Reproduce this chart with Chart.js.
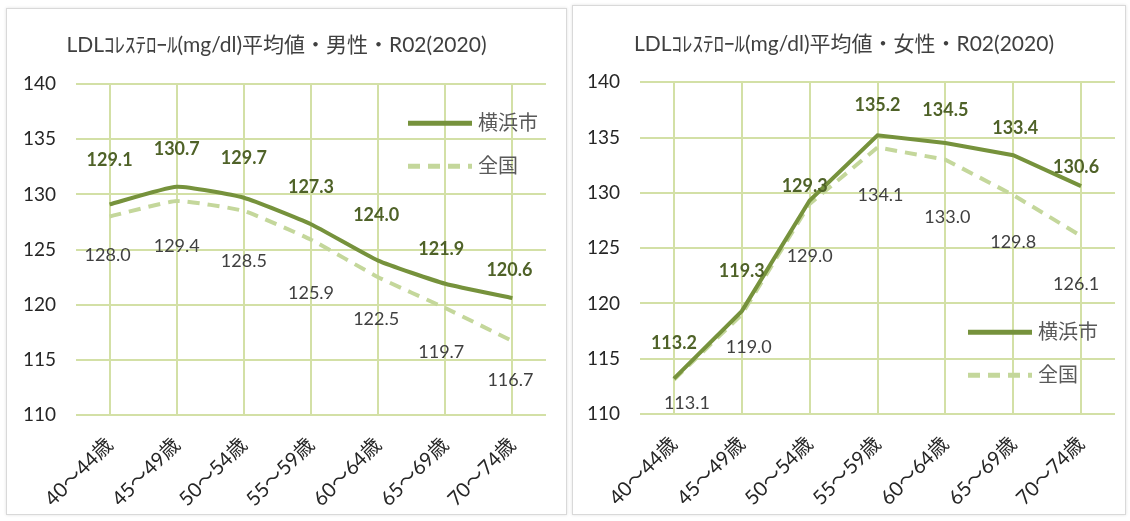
<!DOCTYPE html>
<html>
<head>
<meta charset="utf-8">
<script src="https://cdn.jsdelivr.net/npm/chart.js@4.4.1/dist/chart.umd.min.js"></script>
<style>
  html, body { margin: 0; padding: 0; background: #fff; }
  body { width: 1130px; height: 521px; position: relative; overflow: hidden; }
  .panel { position: absolute; box-sizing: border-box; border: 1px solid #d9d9d9; box-shadow: 0 0 3px rgba(0,0,0,0.12); background: #fff; }
  #p1 { left: 6px; top: 8px; width: 561px; height: 507px; }
  #p2 { left: 572px; top: 5px; width: 554px; height: 510px; }
  .panel canvas { position: absolute; left: 0; top: 0; }
</style>
</head>
<body>
<div class="panel" id="p1"><canvas id="male"></canvas></div>
<div class="panel" id="p2"><canvas id="female"></canvas></div>
<script>
const ageLabels = ['40～44歳', '45～49歳', '50～54歳', '55～59歳', '60～64歳', '65～69歳', '70～74歳'];
const yokohamaMale = [129.1, 130.7, 129.7, 127.3, 124.0, 121.9, 120.6];
const nationalMale = [128.0, 129.4, 128.5, 125.9, 122.5, 119.7, 116.7];
const yokohamaFemale = [113.2, 119.3, 129.3, 135.2, 134.5, 133.4, 130.6];
const nationalFemale = [113.1, 119.0, 129.0, 134.1, 133.0, 129.8, 126.1];
const yMin = 110, yMax = 140, yStep = 5;

const FONT = "Lato, 'Noto Sans CJK JP', sans-serif";
const darkGreen = '#76923C';
const lightGreen = '#C4D79B';
const gridGreen = '#D3E0A6';
Chart.defaults.font.family = FONT;

// value labels, placed by hand like the Excel original
const valueLabels = {
  id: 'valueLabels',
  afterDatasetsDraw(chart, args, opts) {
    const ctx = chart.ctx;
    chart.data.datasets.forEach((ds, i) => {
      const meta = chart.getDatasetMeta(i);
      const s = opts.sets[i];
      ctx.save();
      ctx.font = (s.bold ? 'bold ' : '') + '18px ' + FONT;
      ctx.fillStyle = s.color;
      ctx.textAlign = 'center';
      ctx.textBaseline = 'middle';
      meta.data.forEach((pt, j) => {
        ctx.fillText(ds.data[j].toFixed(1), pt.x + s.dx[j], pt.y + s.dy[j]);
      });
      ctx.restore();
    });
  }
};

// legend drawn inside the plot area
const innerLegend = {
  id: 'innerLegend',
  afterDatasetsDraw(chart, args, opts) {
    const { ctx, chartArea } = chart;
    chart.data.datasets.forEach((ds, i) => {
      const x = chartArea.left + opts.left;
      const y = chartArea.top + opts.top + i * opts.gap;
      ctx.save();
      ctx.strokeStyle = ds.borderColor;
      ctx.lineWidth = 5;
      ctx.setLineDash(ds.borderDash || []);
      ctx.beginPath();
      ctx.moveTo(x, y);
      ctx.lineTo(x + 64, y);
      ctx.stroke();
      ctx.setLineDash([]);
      ctx.fillStyle = '#595959';
      ctx.font = '20px ' + FONT;
      ctx.textBaseline = 'middle';
      ctx.fillText(ds.label, x + 70, y);
      ctx.restore();
    });
  }
};

function makeChart(id, w, h, title, yoko, nat, cfg) {
  const cv = document.getElementById(id);
  cv.width = w; cv.height = h;
  cv.style.width = w + 'px'; cv.style.height = h + 'px';
  return new Chart(cv, {
    type: 'line',
    data: {
      labels: ageLabels,
      datasets: [
        { label: '横浜市', data: yoko, borderColor: darkGreen, borderWidth: 4, pointRadius: 0, tension: cfg.tension, order: 0 },
        { label: '全国', data: nat, borderColor: lightGreen, borderWidth: 4, borderDash: [12, 8], pointRadius: 0, tension: cfg.tension, order: 1 }
      ]
    },
    options: {
      responsive: false,
      animation: false,
      layout: { padding: { left: 0, right: cfg.padRight, top: 0, bottom: 0 } },
      plugins: {
        legend: { display: false },
        tooltip: { enabled: false },
        title: {
          display: true, text: title, color: '#404040',
          font: { size: 21, weight: 'normal', family: FONT },
          padding: { top: cfg.titleTop, bottom: cfg.titleBottom }
        },
        valueLabels: { sets: cfg.labels },
        innerLegend: cfg.legend
      },
      scales: {
        x: {
          offset: true,
          grid: { color: gridGreen, lineWidth: 2, drawTicks: false, offset: false },
          border: { display: false },
          ticks: { color: '#262626', font: { size: 20 }, minRotation: 45, maxRotation: 45, autoSkip: false, padding: 18 },
          afterFit: s => { s.height = cfg.xHeight; }
        },
        y: {
          min: yMin, max: yMax,
          grid: { color: gridGreen, lineWidth: 2, drawTicks: false },
          border: { display: false },
          ticks: { stepSize: yStep, color: '#262626', font: { size: 19 }, padding: 20 },
          afterFit: s => { s.width = cfg.yWidth; }
        }
      }
    },
    plugins: [valueLabels, innerLegend]
  });
}

makeChart('male', 559, 505, 'LDLｺﾚｽﾃﾛｰﾙ(mg/dl)平均値・男性・R02(2020)', yokohamaMale, nationalMale, {
  tension: 0.15, padRight: 20, titleTop: 24, titleBottom: 26, xHeight: 99, yWidth: 69,
  legend: { left: 332, top: 39, gap: 43 },
  labels: [
    { bold: true, color: '#4F6228', dx: [0, 0, 0, 0, -2, -4, -3], dy: [-44, -38, -40, -37, -45, -35, -28] },
    { bold: false, color: '#404040', dx: [-2, 0, 0, 0, -2, -4, -2], dy: [39, 45, 50, 54, 42, 44, 39] }
  ]
});

makeChart('female', 552, 508, 'LDLｺﾚｽﾃﾛｰﾙ(mg/dl)平均値・女性・R02(2020)', yokohamaFemale, nationalFemale, {
  tension: 0, padRight: 10, titleTop: 26, titleBottom: 25, xHeight: 100, yWidth: 67,
  legend: { left: 328, top: 250, gap: 43 },
  labels: [
    { bold: true, color: '#4F6228', dx: [0, 0, -5, 0, 0, 2, -5], dy: [-35, -40, -14, -30, -33, -27, -19] },
    { bold: false, color: '#404040', dx: [13, 7, 0, 3, 2, 0, -5], dy: [23, 33, 52, 48, 58, 47, 48] }
  ]
});
</script>
</body>
</html>
